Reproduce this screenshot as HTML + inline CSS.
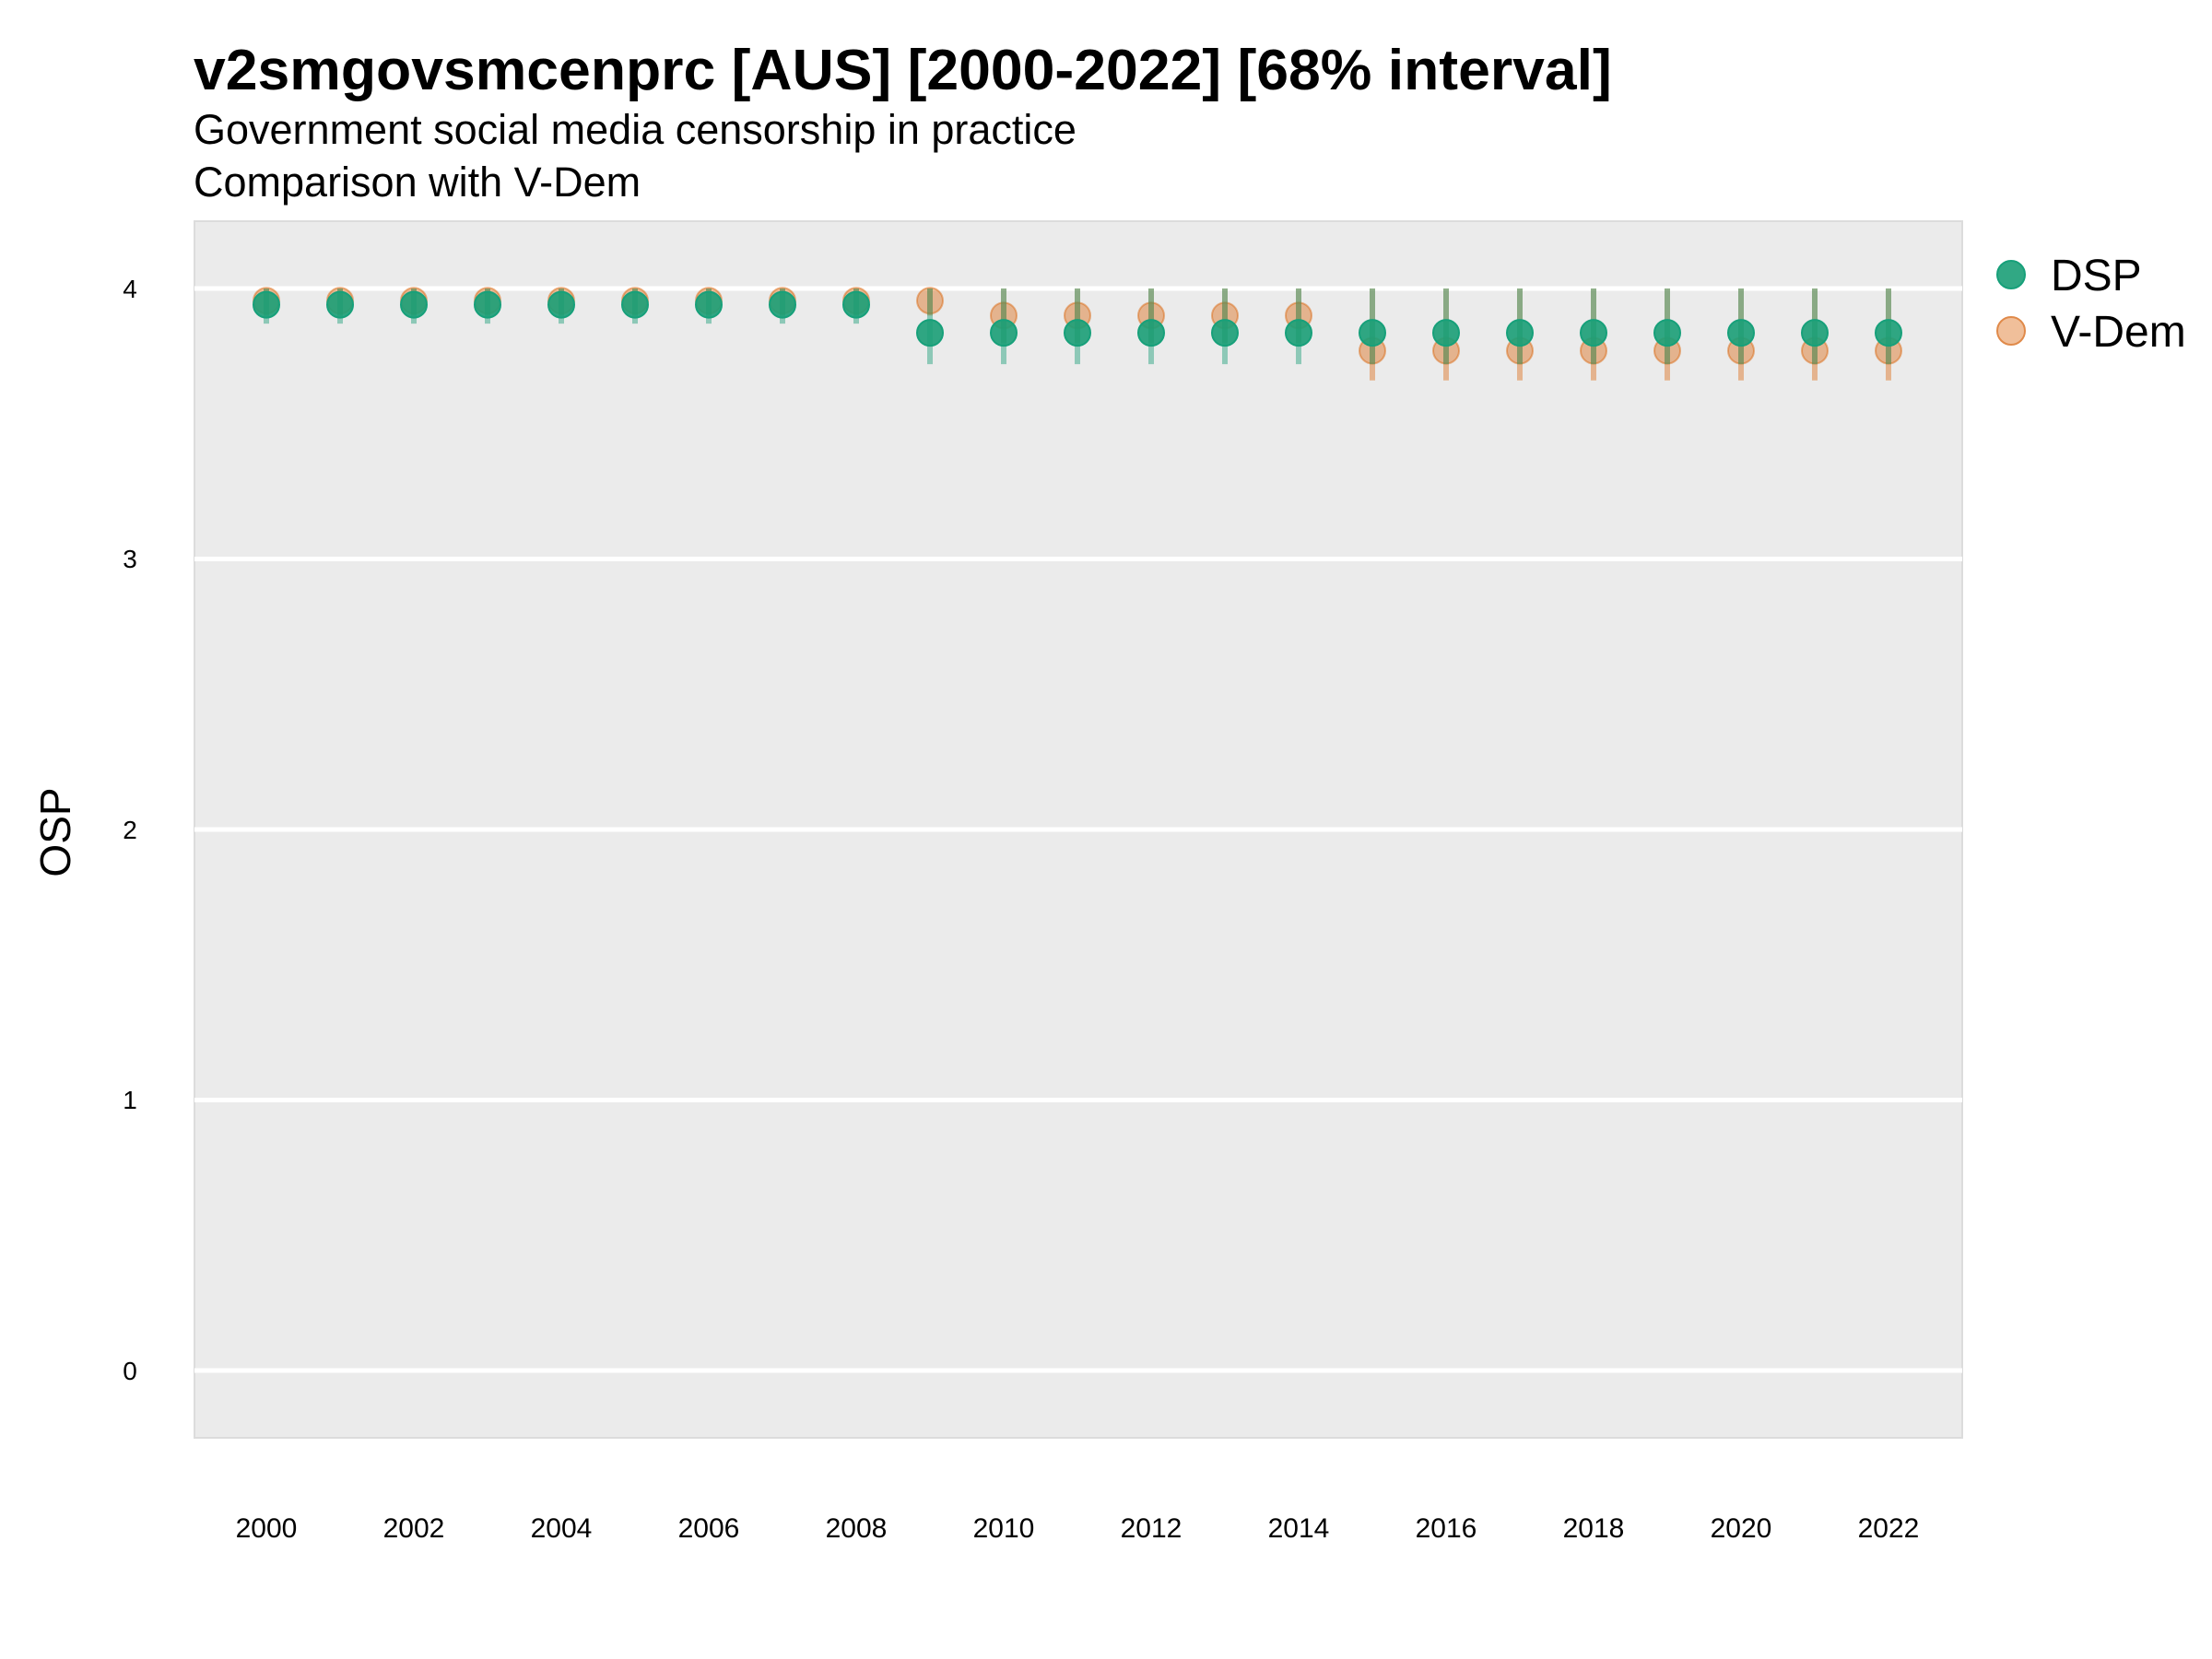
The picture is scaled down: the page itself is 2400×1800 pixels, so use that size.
<!DOCTYPE html>
<html><head><meta charset="utf-8"><style>
html,body{margin:0;padding:0;background:#fff;}
svg{display:block;font-family:"Liberation Sans",Arial,sans-serif;}
</style></head><body>
<svg width="2400" height="1800" viewBox="0 0 2400 1800" xmlns="http://www.w3.org/2000/svg">
<rect width="2400" height="1800" fill="#fff"/>
<text x="210" y="97" font-size="62.5" font-weight="bold" fill="#000">v2smgovsmcenprc [AUS] [2000-2022] [68% interval]</text>
<text x="210" y="156" font-size="45" fill="#000">Government social media censorship in practice</text>
<text x="210" y="213" font-size="45" fill="#000">Comparison with V-Dem</text>
<rect x="211" y="240" width="1918" height="1320" fill="#ebebeb" stroke="#dcdcdc" stroke-width="2"/>
<g stroke="#fff" stroke-width="5">
<line x1="211" x2="2129" y1="313" y2="313"/>
<line x1="211" x2="2129" y1="606.5" y2="606.5"/>
<line x1="211" x2="2129" y1="900" y2="900"/>
<line x1="211" x2="2129" y1="1193.5" y2="1193.5"/>
<line x1="211" x2="2129" y1="1487" y2="1487"/>
</g>
<g font-size="28" fill="#000" text-anchor="middle">
<text x="141" y="323">4</text>
<text x="141" y="616">3</text>
<text x="141" y="910">2</text>
<text x="141" y="1203">1</text>
<text x="141" y="1497">0</text>
</g>
<text transform="translate(76,903) rotate(-90)" font-size="46" text-anchor="middle" fill="#000">OSP</text>
<g font-size="30" fill="#000" text-anchor="middle" id="xl"></g>
<g id="data"></g>
<circle cx="2182" cy="298" r="15" fill="#1b9e77" fill-opacity="0.9" stroke="#17a07a" stroke-width="2"/>
<text x="2225" y="315" font-size="48" fill="#000">DSP</text>
<circle cx="2182" cy="359" r="15" fill="#d95f02" fill-opacity="0.4" stroke="#e08a4a" stroke-width="2"/>
<text x="2225" y="376" font-size="48" fill="#000">V-Dem</text>
<script>
var NS="http://www.w3.org/2000/svg";
function el(p,t,a,txt){var e=document.createElementNS(NS,t);for(var k in a)e.setAttribute(k,a[k]);if(txt)e.textContent=txt;p.appendChild(e);return e;}
var xl=document.getElementById('xl'),d=document.getElementById('data');
function X(y){return 289+(y-2000)*80;}
function Y(v){return 1487-v*293.5;}
for(var y=2000;y<=2022;y+=2)el(xl,'text',{x:X(y),y:1668},String(y));
var vd=[],ds=[];
for(var y=2000;y<=2022;y++){
 var v,vl,vh,p,pl,ph;
 if(y<=2009){v=3.955;vl=3.9;vh=4.0;}else if(y<=2014){v=3.9;vl=3.8;vh=4.0;}else{v=3.77;vl=3.66;vh=4.0;}
 if(y<=2008){p=3.94;pl=3.87;ph=4.0;}else{p=3.836;pl=3.72;ph=4.0;}
 vd.push([y,v,vl,vh]);ds.push([y,p,pl,ph]);
}
vd.forEach(function(r){el(d,'line',{x1:X(r[0]),x2:X(r[0]),y1:Y(r[3]),y2:Y(r[2]),stroke:'#d95f02','stroke-opacity':0.4,'stroke-width':6});});
vd.forEach(function(r){el(d,'circle',{cx:X(r[0]),cy:Y(r[1]),r:14,fill:'#d95f02','fill-opacity':0.4,stroke:'#d95f02','stroke-opacity':0.45,'stroke-width':2});});
ds.forEach(function(r){el(d,'line',{x1:X(r[0]),x2:X(r[0]),y1:Y(r[3]),y2:Y(r[2]),stroke:'#1b9e77','stroke-opacity':0.45,'stroke-width':6});});
ds.forEach(function(r){el(d,'circle',{cx:X(r[0]),cy:Y(r[1]),r:14,fill:'#1b9e77','fill-opacity':0.9,stroke:'#17a07a','stroke-width':2});});
</script>
</svg>
</body></html>
